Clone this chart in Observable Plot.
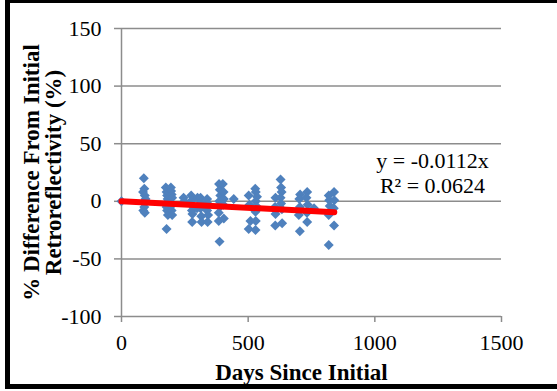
<!DOCTYPE html>
<html>
<head>
<meta charset="utf-8">
<script src="https://cdn.jsdelivr.net/npm/d3@7"></script>
<script src="https://cdn.jsdelivr.net/npm/@observablehq/plot@0.6"></script>
<style>
  html, body { margin: 0; padding: 0; background: #fff; }
  #wrap { position: relative; width: 557px; height: 391px; overflow: hidden; }
  #border { position: absolute; left: 5px; top: 0; width: 560px; height: 381px;
            border-left: 5px solid #000; border-top: 3px solid #000; border-bottom: 5px solid #000; }
</style>
</head>
<body>
<div id="wrap"><div id="border"></div></div>
<script>
// Days since initial measurement
const days = [
  0,
  88, 90, 85, 92, 95, 88, 90, 86, 92,
  175, 178, 180, 182, 176, 178, 180, 183, 178,
  195, 196, 198, 200, 196, 198, 200,
  245, 248,
  275, 278, 276, 278, 280, 279,
  300, 298,
  312, 314, 312, 315, 316,
  338, 340, 338, 342, 340,
  385, 388, 390, 386, 388, 384, 384, 387,
  400, 403, 404, 402, 404,
  443,
  502, 505, 509, 502,
  528, 530, 535, 530, 532, 529, 530, 529,
  608, 606, 608, 607,
  628, 630, 632, 628, 630, 633, 634,
  705, 702, 704, 700, 704,
  733, 730, 735, 732, 733,
  760,
  818, 820, 822, 818, 818,
  839, 840, 838, 839
];
// % difference from initial retroreflectivity
const pctDiff = [
  0,
  20, 11, 8, 5, 2, -1, -5, -8, -10,
  12, 8, 5, 2, -2, -5, -8, -12, -24,
  12, 9, 6, 3, -4, -8, -12,
  3, 0,
  5, 1, -3, -8, -11, -18,
  3, -6,
  3, -1, -6, -13, -18,
  2, -2, -8, -12, -18,
  15, 10, 5, 0, -5, -10, -17, -35,
  15, 8, 2, -3, -15,
  2,
  5, -3, -17, -24,
  11, 8, 4, 0, -4, -9, -17, -25,
  3, -5, -11, -21,
  19, 12, 8, 3, -2, -7, -19,
  6, 2, -5, -12, -26,
  8, 3, -3, -10, -18,
  -6,
  5, 1, -4, -12, -38,
  8, 1, -6, -21
];
const slope = -0.0112;
const equationText = "y = -0.0112x\nR\u00B2 = 0.0624";
const xTicks = [0, 500, 1000, 1500];
const yTicks = [-100, -50, 0, 50, 100, 150];
const xTitle = "Days Since Initial";
const yTitle = "% Difference From Initial\nRetroreflectivity (%)";

const points = days.map((d, i) => ({day: d, pct: pctDiff[i]}));
const maxDay = d3.max(days);
const trend = [0, maxDay].map(d => ({day: d, pct: slope * d}));

const blue = "#4F81BD";
const grid = "#8c8c8c";
const fmt = d => String(d);

const chart = Plot.plot({
  width: 557,
  height: 391,
  marginLeft: 121,
  marginRight: 56,
  marginTop: 28,
  marginBottom: 75,
  style: {fontFamily: "'Liberation Serif', serif", fontSize: "22px", background: "transparent", color: "#000"},
  x: {domain: [0, 1500], ticks: xTicks},
  y: {domain: [-100, 150], ticks: yTicks},
  marks: [
    Plot.gridY(yTicks.filter(t => t > -100), {stroke: grid, strokeOpacity: 1, strokeWidth: 1.5}),
    Plot.ruleY([-100], {stroke: grid, strokeWidth: 1.5, x1: 0, x2: 1500}),
    Plot.ruleX([0], {stroke: grid, strokeWidth: 1.5, y1: -100, y2: 150}),
    Plot.axisX({ticks: xTicks, tickFormat: fmt, tickSize: 6, tickPadding: 12, stroke: grid, strokeWidth: 1.5, label: null, fill: "#000"}),
    Plot.axisY({ticks: yTicks, tickFormat: fmt, tickSize: 7, tickPadding: 13, stroke: grid, strokeWidth: 1.5, label: null, fill: "#000"}),
    Plot.dot(points, {x: "day", y: "pct", symbol: "diamond2", r: 4.5, fill: blue, stroke: null}),
    Plot.line(trend, {x: "day", y: "pct", stroke: "#FF0000", strokeWidth: 6}),
    Plot.text([equationText], {frameAnchor: "right", dx: -69, dy: 0, textAnchor: "middle", lineAnchor: "middle", lineHeight: 1.14, fontSize: 22, fill: "#000"}),
    Plot.text([xTitle], {frameAnchor: "bottom", dx: -10, dy: 56, textAnchor: "middle", lineAnchor: "middle", fontWeight: "bold", fontSize: 23, fill: "#000"}),
    Plot.text([yTitle], {frameAnchor: "left", dx: -79, rotate: -90, textAnchor: "middle", lineAnchor: "middle", lineHeight: 0.96, fontWeight: "bold", fontSize: 23, fill: "#000"})
  ]
});
chart.style.position = "absolute";
chart.style.left = "0";
chart.style.top = "0";
document.getElementById("wrap").prepend(chart);
</script>
</body>
</html>
